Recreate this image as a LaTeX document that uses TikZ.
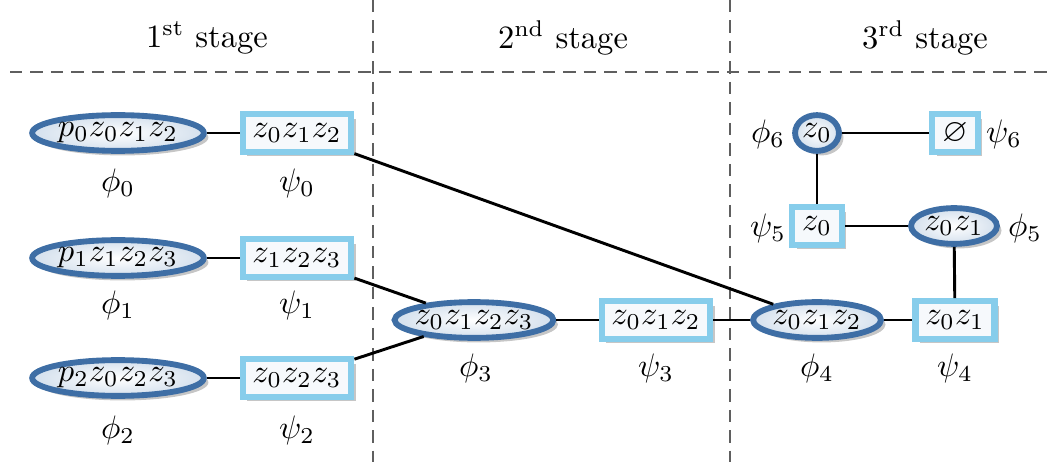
\documentclass[tikz,border=0pt]{standalone}
\usepackage{amsmath,amssymb}
\usetikzlibrary{shapes.geometric,shadows}
\definecolor{ovalblue}{RGB}{62,110,165}
\definecolor{ovalfill}{RGB}{212,224,237}
\definecolor{boxblue}{RGB}{135,205,235}
\definecolor{boxfill}{RGB}{246,249,252}
\definecolor{stagegray}{RGB}{95,95,95}
\tikzset{
  factor/.style={ellipse, draw=ovalblue, line width=1.8pt,
    inner color=white, outer color=ovalfill,
    inner xsep=0.2pt, inner ysep=0pt, minimum height=11pt,
    drop shadow={opacity=0.45, shadow xshift=1.4pt, shadow yshift=-1.4pt}},
  sepset/.style={rectangle, draw=boxblue, line width=1.9pt, fill=boxfill,
    inner xsep=3pt, inner ysep=0pt, minimum height=11.5pt, minimum width=14pt,
    drop shadow={opacity=0.45, shadow xshift=1.4pt, shadow yshift=-1.4pt}},
  link/.style={line width=0.9pt},
  stageline/.style={stagegray, line width=0.85pt, dash pattern=on 3.8pt off 2.5pt},
}
\begin{document}
\begin{tikzpicture}[x=0.3075pt, y=-0.3075pt]
  \useasboundingbox (0,0) rectangle (1053,462);
  % stages
  \draw[stageline] (10,72) -- (1053,72);
  \draw[stageline] (373,0) -- (373,462);
  \draw[stageline] (730,0) -- (730,462);
  \node (st1) at (207,38) {1\textsuperscript{st} stage};
  \node (st2) at (563,38) {2\textsuperscript{nd} stage};
  \node (st3) at (925,38) {3\textsuperscript{rd} stage};
  % 1st stage
  \node[factor] (f0) at (118,133) {$p_0z_0z_1z_2$};
  \node[sepset] (s0) at (297,133) {$z_0z_1z_2$};
  \node[factor] (f1) at (118,258) {$p_1z_1z_2z_3$};
  \node[sepset] (s1) at (297,258) {$z_1z_2z_3$};
  \node[factor] (f2) at (118,378) {$p_2z_0z_2z_3$};
  \node[sepset] (s2) at (297,378) {$z_0z_2z_3$};
  % 2nd stage
  \node[factor, inner xsep=-1pt] (f3) at (474,320) {$z_0z_1z_2z_3$};
  \node[sepset] (s3) at (656,320) {$z_0z_1z_2$};
  % 3rd stage
  \node[factor] (f4) at (817,320) {$z_0z_1z_2$};
  \node[sepset] (s4) at (955,320) {$z_0z_1$};
  \node[factor] (f5) at (954,226) {$z_0z_1$};
  \node[sepset] (s5) at (817,226) {$z_0$};
  \node[factor] (f6) at (817,133) {$z_0$};
  \node[sepset] (s6) at (955,133) {$\varnothing$};
  % labels
  \node (lf0) at (118,183) {$\phi_0$};
  \node (ls0) at (297,183) {$\psi_0$};
  \node (lf1) at (118,305) {$\phi_1$};
  \node (ls1) at (297,305) {$\psi_1$};
  \node (lf2) at (118,430) {$\phi_2$};
  \node (ls2) at (297,430) {$\psi_2$};
  \node (lf3) at (476,368) {$\phi_3$};
  \node (ls3) at (656,368) {$\psi_3$};
  \node (lf4) at (817,368) {$\phi_4$};
  \node (ls4) at (955,368) {$\psi_4$};
  \node (lf5) at (1025,228) {$\phi_5$};
  \node (ls5) at (768,228) {$\psi_5$};
  \node (lf6) at (768,134) {$\phi_6$};
  \node (ls6) at (1004,134) {$\psi_6$};
  % edges
  \draw[link] (f0) -- (s0);
  \draw[link] (f1) -- (s1);
  \draw[link] (f2) -- (s2);
  \draw[link] (s1) -- (f3);
  \draw[link] (s2) -- (f3);
  \draw[link] (s0) -- (f4);
  \draw[link] (f3) -- (s3);
  \draw[link] (s3) -- (f4);
  \draw[link] (f4) -- (s4);
  \draw[link] (s4) -- (f5);
  \draw[link] (f5) -- (s5);
  \draw[link] (s5) -- (f6);
  \draw[link] (f6) -- (s6);
\end{tikzpicture}
\end{document}
